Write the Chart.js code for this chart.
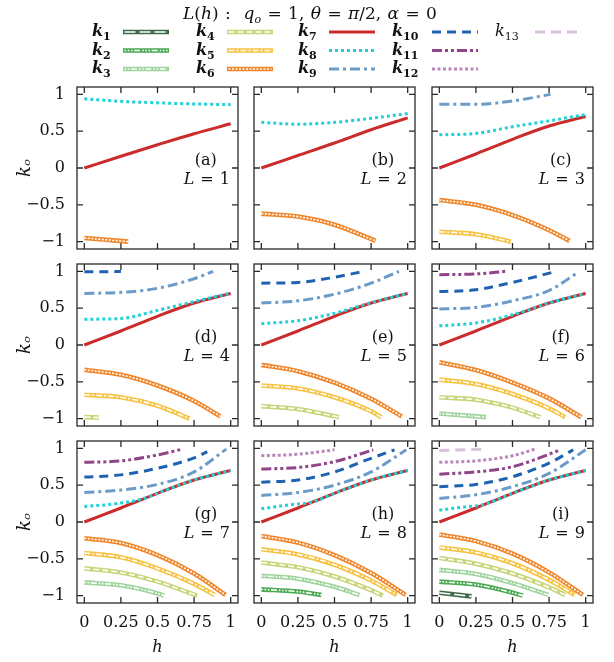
<!DOCTYPE html>
<html>
<head>
<meta charset="utf-8">
<script src="https://cdn.jsdelivr.net/npm/chart.js@4.4.1/dist/chart.umd.min.js"></script>
<style>
  body { margin: 0; background: #fff; }
  #page { position: relative; width: 614px; height: 662px; overflow: hidden; font-family: "DejaVu Serif", "Liberation Serif", serif; color: #111; }
  #page canvas { position: absolute; }
  .txt { position: absolute; font-size: 16px; line-height: 20px; white-space: nowrap; }
  .txt sub { font-size: 11px; vertical-align: -4px; line-height: 0; }
</style>
</head>
<body>
<div id="page">
  <canvas id="legend" width="614" height="84" style="left:0;top:0"></canvas>
  <div class="txt" style="left:310px;top:3px;transform:translateX(-50%);font-size:17px;word-spacing:1px"><i>L</i>(<i>h</i>)&nbsp;:&nbsp; <i>q<sub>o</sub></i> = 1, <i>θ</i> = <i>π</i>/2, <i>α</i> = 0</div>
</div>
<script>
// tick values
const hTicks = [0, 0.25, 0.5, 0.75, 1];
const kTicks = [-1, -0.5, 0, 0.5, 1];
const panelTags = ['(a)', '(b)', '(c)', '(d)', '(e)', '(f)', '(g)', '(h)', '(i)'];
const lValues = [1, 2, 3, 4, 5, 6, 7, 8, 9];
const seriesNames = ['k1', 'k2', 'k3', 'k4', 'k5', 'k6', 'k7', 'k8', 'k9', 'k10', 'k11', 'k12', 'k13'];

// k7 (red) is almost the same from L = 3 on
const k7Main = [[0, 0], [0.25, 0.19], [0.5, 0.39], [0.75, 0.57], [1, 0.7]];

// each panel: [series number, [[h, k], ...]]
const panelL1 = [
  [6, [[0, -0.95], [0.15, -0.975], [0.3, -1.0]]],
  [7, [[0, 0], [0.25, 0.16], [0.5, 0.315], [0.75, 0.465], [1, 0.6]]],
  [8, [[0, 0.94], [0.25, 0.905], [0.5, 0.885], [0.75, 0.87], [1, 0.86]]]
];
const panelL2 = [
  [6, [[0, -0.62], [0.25, -0.66], [0.5, -0.77], [0.78, -0.99]]],
  [7, [[0, 0], [0.25, 0.17], [0.5, 0.34], [0.75, 0.52], [1, 0.68]]],
  [8, [[0, 0.62], [0.25, 0.595], [0.5, 0.62], [0.75, 0.675], [1, 0.74]]]
];
const panelL3 = [
  [5, [[0, -0.865], [0.25, -0.9], [0.49, -1.0]]],
  [6, [[0, -0.435], [0.25, -0.5], [0.5, -0.64], [0.75, -0.845], [0.89, -0.99]]],
  [7, k7Main],
  [8, [[0, 0.45], [0.25, 0.47], [0.5, 0.56], [0.75, 0.64], [1, 0.725]]],
  [9, [[0, 0.865], [0.25, 0.865], [0.5, 0.91], [0.76, 1.0]]]
];
const panelL4 = [
  [4, [[0, -0.98], [0.1, -0.985]]],
  [5, [[0, -0.675], [0.25, -0.71], [0.5, -0.825], [0.72, -1.0]]],
  [6, [[0, -0.335], [0.25, -0.405], [0.5, -0.55], [0.75, -0.76], [0.93, -0.97]]],
  [7, k7Main],
  [8, [[0, 0.35], [0.25, 0.36], [0.5, 0.47], [0.75, 0.59], [1, 0.705]]],
  [9, [[0, 0.7], [0.25, 0.715], [0.5, 0.77], [0.75, 0.9], [0.88, 1.0]]],
  [10, [[0, 0.995], [0.25, 0.997]]]
];
const panelL5 = [
  [4, [[0, -0.83], [0.25, -0.87], [0.53, -0.98]]],
  [5, [[0, -0.55], [0.25, -0.59], [0.5, -0.71], [0.75, -0.9], [0.82, -0.98]]],
  [6, [[0, -0.27], [0.25, -0.355], [0.5, -0.51], [0.75, -0.73], [0.96, -0.97]]],
  [7, k7Main],
  [8, [[0, 0.29], [0.25, 0.33], [0.5, 0.43], [0.75, 0.575], [1, 0.7]]],
  [9, [[0, 0.57], [0.25, 0.6], [0.5, 0.69], [0.75, 0.84], [0.94, 1.0]]],
  [10, [[0, 0.84], [0.25, 0.85], [0.5, 0.92], [0.7, 1.0]]]
];
const panelL6 = [
  [3, [[0, -0.93], [0.32, -0.98]]],
  [4, [[0, -0.71], [0.25, -0.744], [0.5, -0.85], [0.69, -0.98]]],
  [5, [[0, -0.47], [0.25, -0.53], [0.5, -0.665], [0.75, -0.86], [0.86, -0.98]]],
  [6, [[0, -0.235], [0.25, -0.34], [0.5, -0.51], [0.75, -0.725], [0.97, -0.98]]],
  [7, k7Main],
  [8, [[0, 0.26], [0.25, 0.3], [0.5, 0.41], [0.75, 0.57], [1, 0.7]]],
  [9, [[0, 0.49], [0.25, 0.51], [0.5, 0.6], [0.75, 0.74], [0.95, 0.99]]],
  [10, [[0, 0.725], [0.25, 0.75], [0.5, 0.85], [0.8, 1.0]]],
  [11, [[0, 0.955], [0.25, 0.965], [0.45, 1.0]]]
];
const panelL7 = [
  [3, [[0, -0.82], [0.25, -0.86], [0.5, -0.97], [0.545, -1.0]]],
  [4, [[0, -0.63], [0.25, -0.685], [0.5, -0.81], [0.77, -1.0]]],
  [5, [[0, -0.42], [0.25, -0.48], [0.5, -0.63], [0.75, -0.84], [0.89, -0.99]]],
  [6, [[0, -0.22], [0.25, -0.285], [0.5, -0.45], [0.75, -0.7], [0.965, -0.99]]],
  [7, k7Main],
  [8, [[0, 0.21], [0.2, 0.245], [0.4, 0.315], [0.5, 0.39], [0.75, 0.57], [1, 0.7]]],
  [9, [[0, 0.4], [0.25, 0.435], [0.5, 0.51], [0.75, 0.68], [0.97, 0.99]]],
  [10, [[0, 0.61], [0.25, 0.64], [0.5, 0.73], [0.75, 0.87], [0.84, 0.955]]],
  [11, [[0, 0.81], [0.25, 0.83], [0.5, 0.91], [0.67, 0.99]]]
];
const panelL8 = [
  [2, [[0, -0.915], [0.25, -0.945], [0.41, -0.99]]],
  [3, [[0, -0.73], [0.25, -0.77], [0.5, -0.88], [0.67, -0.99]]],
  [4, [[0, -0.55], [0.25, -0.615], [0.5, -0.74], [0.75, -0.926], [0.83, -1.0]]],
  [5, [[0, -0.37], [0.25, -0.44], [0.5, -0.58], [0.75, -0.795], [0.925, -0.99]]],
  [6, [[0, -0.19], [0.25, -0.28], [0.5, -0.45], [0.75, -0.693], [0.985, -0.99]]],
  [7, k7Main],
  [8, [[0, 0.18], [0.2, 0.235], [0.35, 0.27], [0.5, 0.39], [0.75, 0.57], [1, 0.7]]],
  [9, [[0, 0.36], [0.25, 0.4], [0.5, 0.5], [0.75, 0.68], [0.99, 0.98]]],
  [10, [[0, 0.54], [0.25, 0.57], [0.5, 0.68], [0.75, 0.865], [0.91, 0.98]]],
  [11, [[0, 0.72], [0.25, 0.74], [0.5, 0.82], [0.765, 0.98]]],
  [12, [[0, 0.9], [0.25, 0.92], [0.5, 0.98]]]
];
const panelL9 = [
  [1, [[0, -0.96], [0.22, -1.01]]],
  [2, [[0, -0.81], [0.25, -0.85], [0.5, -0.96], [0.57, -1.0]]],
  [3, [[0, -0.65], [0.25, -0.705], [0.5, -0.83], [0.745, -0.99]]],
  [4, [[0, -0.49], [0.25, -0.567], [0.5, -0.7], [0.75, -0.889], [0.86, -0.99]]],
  [5, [[0, -0.345], [0.25, -0.413], [0.5, -0.56], [0.75, -0.786], [0.925, -0.99]]],
  [6, [[0, -0.17], [0.25, -0.26], [0.5, -0.43], [0.75, -0.684], [0.98, -0.99]]],
  [7, k7Main],
  [8, [[0, 0.16], [0.15, 0.2], [0.3, 0.235], [0.5, 0.39], [0.75, 0.57], [1, 0.7]]],
  [9, [[0, 0.32], [0.25, 0.37], [0.5, 0.48], [0.75, 0.66], [1, 0.98]]],
  [10, [[0, 0.48], [0.25, 0.51], [0.5, 0.615], [0.75, 0.8], [0.915, 0.98]]],
  [11, [[0, 0.65], [0.25, 0.68], [0.5, 0.75], [0.75, 0.92], [0.825, 0.98]]],
  [12, [[0, 0.81], [0.25, 0.83], [0.5, 0.9], [0.655, 0.99]]],
  [13, [[0, 0.97], [0.3, 0.99]]]
];
const panels = [panelL1, panelL2, panelL3, panelL4, panelL5, panelL6, panelL7, panelL8, panelL9];

// line look per series (hollow = white dash pattern inside a thick coloured line)
const lineStyles = [
  { color: '#3f6a48', hollow: [11, 4] },
  { color: '#4aa851', hollow: [1.6, 1.6, 1.6, 1.6, 1.6, 1.6, 6, 2] },
  { color: '#9fd49c', hollow: [1.6, 1.6, 1.6, 1.6, 6, 2] },
  { color: '#c9d57b', hollow: [6, 3] },
  { color: '#f6c343', hollow: [6, 2, 2, 2] },
  { color: '#f0862a', hollow: [2, 1.5] },
  { color: '#cb2b2b', dash: [] },
  { color: '#22d0db', dash: [3, 3] },
  { color: '#6a9bc9', dash: [10, 4, 3, 4] },
  { color: '#1f63b0', dash: [9, 6] },
  { color: '#914488', dash: [10, 3, 3, 3, 3, 3] },
  { color: '#bb87b8', dash: [3, 2.5] },
  { color: '#d9c1de', dash: [10, 6] }
];

const FONT = '"DejaVu Serif", "Liberation Serif", serif';
const FS = 16;
const page = document.getElementById('page');

// panel grid in page pixels
const colLeft = [77, 254, 432], rowTop = [87, 264, 441];
const PW = 161, PH = 162, PAD = 24;

function drawSample(ctx, st, x0, y, len) {
  ctx.save();
  ctx.lineCap = 'butt';
  ctx.beginPath(); ctx.moveTo(x0, y); ctx.lineTo(x0 + len, y);
  ctx.strokeStyle = st.color;
  ctx.lineWidth = st.hollow ? 4.6 : 3;
  ctx.setLineDash(st.hollow ? [] : st.dash);
  ctx.stroke();
  if (st.hollow) {
    ctx.beginPath(); ctx.moveTo(x0 + 1.5, y); ctx.lineTo(x0 + len - 1.5, y);
    ctx.strokeStyle = '#fff'; ctx.lineWidth = 1.6;
    ctx.setLineDash(st.hollow);
    ctx.stroke();
  }
  ctx.restore();
}

// legend
const legendLabelX = [92, 196, 298, 392, 495];
const legendLineX = [123, 227, 329, 432, 535];
const legendRows = [32, 50.5, 69];
const lg = document.getElementById('legend').getContext('2d');
seriesNames.forEach((name, i) => {
  const col = Math.floor(i / 3), row = i % 3;
  drawSample(lg, lineStyles[i], legendLineX[col], legendRows[row], 46);
  const d = document.createElement('div');
  d.className = 'txt';
  d.style.left = legendLabelX[col] + 'px';
  d.style.top = (legendRows[row] - 11) + 'px';
  const sub = name.slice(1);
  d.innerHTML = i < 12 ? `<b><i>k</i><sub>${sub}</sub></b>` : `<i>k</i><sub>${sub}</sub>`;
  page.appendChild(d);
});

function makeDatasets(series) {
  const ds = [];
  series.forEach(([n, pts]) => {
    const st = lineStyles[n - 1];
    const base = {
      data: pts.map(([h, k]) => ({ x: h, y: k })),
      pointRadius: 0, fill: false, borderCapStyle: 'butt',
      cubicInterpolationMode: 'monotone'
    };
    if (st.hollow) {
      ds.push({ ...base, label: seriesNames[n - 1], borderColor: st.color, borderWidth: 4.6, order: 3 });
      ds.push({ ...base, label: seriesNames[n - 1] + ' in', borderColor: '#fff', borderWidth: 1.6, borderDash: st.hollow, order: 2 });
    } else {
      ds.push({ ...base, label: seriesNames[n - 1], borderColor: st.color, borderWidth: 3, borderDash: st.dash, order: n === 8 ? 0 : 1 });
    }
  });
  return ds;
}

// frame with inward ticks on all four sides, and the panel tags
function framePlugin(p) {
  return {
    id: 'frame' + p,
    beforeDatasetsDraw(chart) {
      const { ctx, chartArea: a, scales: { x, y } } = chart;
      ctx.save();
      ctx.strokeStyle = '#2a2a2a';
      ctx.lineWidth = 1.3;
      ctx.strokeRect(a.left, a.top, a.width, a.height);
      ctx.beginPath();
      hTicks.forEach(v => {
        const px = x.getPixelForValue(v);
        ctx.moveTo(px, a.bottom); ctx.lineTo(px, a.bottom - 6);
        ctx.moveTo(px, a.top); ctx.lineTo(px, a.top + 6);
      });
      kTicks.forEach(v => {
        const py = y.getPixelForValue(v);
        ctx.moveTo(a.left, py); ctx.lineTo(a.left + 6, py);
        ctx.moveTo(a.right, py); ctx.lineTo(a.right - 6, py);
      });
      ctx.stroke();
      ctx.restore();
    },
    afterDraw(chart) {
      const { ctx, scales: { x, y } } = chart;
      ctx.save();
      ctx.fillStyle = '#111';
      ctx.textBaseline = 'middle';
      ctx.font = FS + 'px ' + FONT;
      ctx.textAlign = 'center';
      ctx.fillText(panelTags[p], x.getPixelForValue(0.83), y.getPixelForValue(0.095));
      ctx.textAlign = 'right';
      const yy = y.getPixelForValue(-0.16);
      let xr = x.getPixelForValue(0.995);
      const num = String(lValues[p]);
      ctx.fillText(num, xr, yy);
      xr -= ctx.measureText(num).width + 6;
      ctx.fillText('=', xr, yy);
      xr -= ctx.measureText('=').width + 6;
      ctx.font = 'italic ' + FS + 'px ' + FONT;
      ctx.fillText('L', xr, yy);
      ctx.restore();
    }
  };
}

const tickFont = { family: FONT, size: FS };
const fmtK = v => v < 0 ? '\u2212' + Math.abs(v) : String(v);
const fmtH = v => String(v);

panels.forEach((series, p) => {
  const r = Math.floor(p / 3), c = p % 3;
  const padL = c === 0 ? 77 : PAD, padB = r === 2 ? 59 : PAD;
  const cv = document.createElement('canvas');
  cv.width = PW + padL + PAD;
  cv.height = PH + PAD + padB;
  cv.style.left = (colLeft[c] - padL) + 'px';
  cv.style.top = (rowTop[r] - PAD) + 'px';
  page.appendChild(cv);

  new Chart(cv, {
    type: 'line',
    data: { datasets: makeDatasets(series) },
    options: {
      responsive: false,
      animation: false,
      events: [],
      layout: { padding: { left: c === 0 ? 0 : PAD, right: PAD, top: PAD, bottom: r === 2 ? 0 : PAD } },
      plugins: { legend: { display: false }, tooltip: { enabled: false } },
      scales: {
        x: {
          type: 'linear', min: -0.05, max: 1.05,
          display: r === 2,
          afterBuildTicks: s => { s.ticks = hTicks.map(v => ({ value: v })); },
          afterFit: r === 2 ? s => { s.height = 59; } : undefined,
          grid: { display: false, drawTicks: false },
          border: { display: false },
          ticks: { autoSkip: false, maxRotation: 0, minRotation: 0, padding: 10, color: '#111', font: tickFont, callback: fmtH },
          title: { display: true, text: 'h', color: '#111', padding: { top: 0, bottom: 5 }, font: { family: FONT, size: FS, style: 'italic' } }
        },
        y: {
          type: 'linear', min: -1.1, max: 1.1,
          display: c === 0,
          afterBuildTicks: s => { s.ticks = kTicks.map(v => ({ value: v })); },
          afterFit: c === 0 ? s => { s.width = 77; } : undefined,
          grid: { display: false, drawTicks: false },
          border: { display: false },
          ticks: { padding: 12, color: '#111', font: tickFont, callback: fmtK },
          title: { display: true, text: 'k\u2092', color: '#111', padding: { top: 15, bottom: 0 }, font: { family: FONT, size: 18, style: 'italic' } }
        }
      }
    },
    plugins: [framePlugin(p)]
  });
});
</script>
</body>
</html>
